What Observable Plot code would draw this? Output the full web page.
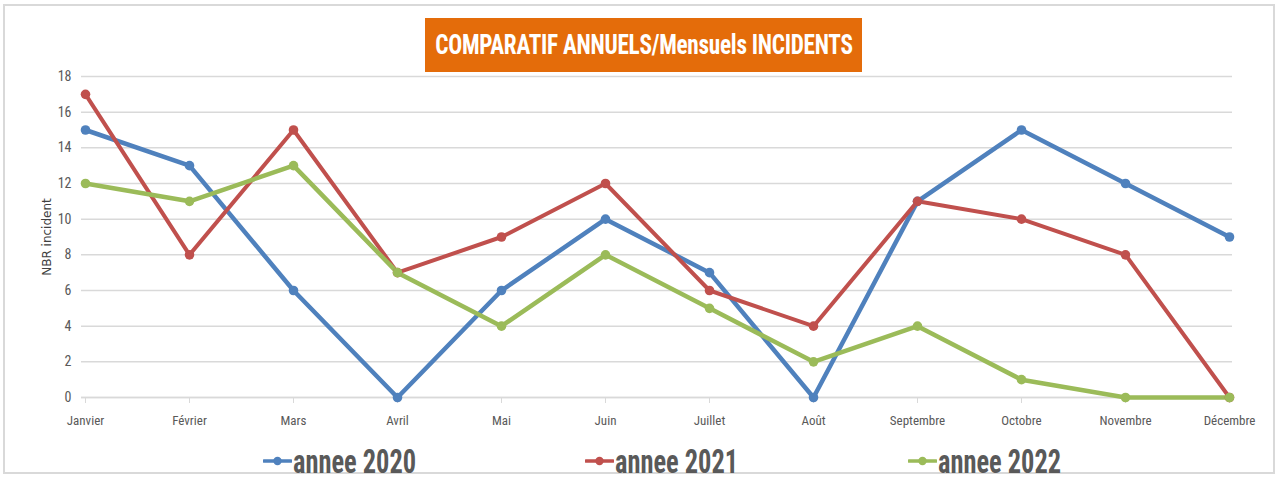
<!DOCTYPE html>
<html>
<head>
<meta charset="utf-8">
<script src="https://cdn.jsdelivr.net/npm/d3@7"></script>
<script src="https://cdn.jsdelivr.net/npm/@observablehq/plot@0.6"></script>
<style>
  html, body { margin: 0; padding: 0; background: #fff; }
  body { width: 1282px; height: 478px; position: relative; overflow: hidden;
         font-family: "Liberation Sans Narrow", "Arial Narrow", "Roboto Condensed", sans-serif; }
  #frame { position: absolute; left: 3px; top: 4px; width: 1272px; height: 470px;
           border: 2px solid #d9d9d9; box-sizing: border-box; }
  #title { position: absolute; left: 425px; top: 18px; width: 437px; height: 54px;
           background: #E46C0A; overflow: hidden; }
  #title span { position: absolute; left: 50%; top: 50%; transform: translate(-50%, -50%) scaleX(0.86);
           color: #fff; font-weight: bold; font-size: 27px; white-space: nowrap; letter-spacing: -0.3px; }
  #chart { position: absolute; left: 0; top: 60px; }
  #ytitle { position: absolute; left: 47px; top: 237px; transform: translate(-50%, -50%) rotate(-90deg);
            font-family: "DejaVu Sans", Verdana, sans-serif; font-size: 12px; color: #404040; white-space: nowrap; }
  .leg { position: absolute; top: 442px; height: 38px; display: flex; align-items: center;
         font-weight: bold; color: #595959; white-space: nowrap; }
  .leg span { display: inline-block; font-size: 33px; transform: scaleX(0.8); transform-origin: left center; }
  .leg svg { margin-right: 1px; }
</style>
</head>
<body>
<div id="frame"></div>
<div id="title"><span>COMPARATIF ANNUELS/Mensuels INCIDENTS</span></div>
<div id="chart"></div>
<div id="ytitle">NBR incident</div>
<div id="legend"></div>
<script>
const months = ["Janvier","Février","Mars","Avril","Mai","Juin","Juillet","Août","Septembre","Octobre","Novembre","Décembre"];
const series = ["annee 2020","annee 2021","annee 2022"];
const colors = ["#4F81BD","#C0504D","#9BBB59"];
const v2020 = [15,13,6,0,6,10,7,0,11,15,12,9];
const v2021 = [17,8,15,7,9,12,6,4,11,10,8,0];
const v2022 = [12,11,13,7,4,8,5,2,4,1,0,0];
const yTicks = [0,2,4,6,8,10,12,14,16,18];

const values = [v2020, v2021, v2022];
const data = [];
series.forEach((s, i) => months.forEach((m, j) => data.push({serie: s, mois: m, n: values[i][j]})));

const widths = {"annee 2020": 4.5, "annee 2021": 4, "annee 2022": 4.5};

const chart = Plot.plot({
  width: 1282,
  height: 380,
  marginLeft: 81,
  marginRight: 50,
  marginTop: 16,
  marginBottom: 43,
  style: {fontFamily: '"Liberation Sans Narrow", "Arial Narrow", "Roboto Condensed", sans-serif', fontSize: "13px", color: "#595959", background: "transparent"},
  x: {type: "point", domain: months, padding: 0},
  y: {domain: [0, 18]},
  color: {domain: series, range: colors},
  marks: [
    Plot.gridY(yTicks, {stroke: "#d9d9d9", strokeOpacity: 1, strokeWidth: 1.5}),
    Plot.ruleY([0], {stroke: "#d9d9d9", strokeWidth: 1.5}),
    Plot.axisY(yTicks, {tickSize: 0, tickPadding: 10, label: null, fill: "#595959", fontSize: 14}),
    Plot.axisX({tickSize: 6, tickPadding: 12, label: null, stroke: "#d9d9d9", fill: "#595959"}),
    ...series.map((s, i) => Plot.line(data.filter(d => d.serie === s), {x: "mois", y: "n", stroke: colors[i], strokeWidth: widths[s], strokeLinejoin: "round"})),
    ...series.map((s, i) => Plot.dot(data.filter(d => d.serie === s), {x: "mois", y: "n", fill: colors[i], r: 4.8, stroke: "none"}))
  ]
});
document.getElementById("chart").append(chart);

const legX = [263, 585, 908];
const legend = document.getElementById("legend");
series.forEach((s, i) => {
  const el = document.createElement("div");
  el.className = "leg";
  el.style.left = legX[i] + "px";
  el.innerHTML = `<svg width="29" height="12"><line x1="1" y1="6" x2="28" y2="6" stroke="${colors[i]}" stroke-width="3.5" stroke-linecap="round"/><circle cx="14.5" cy="6" r="4.2" fill="${colors[i]}"/></svg><span>${s}</span>`;
  legend.append(el);
});
</script>
</body>
</html>
